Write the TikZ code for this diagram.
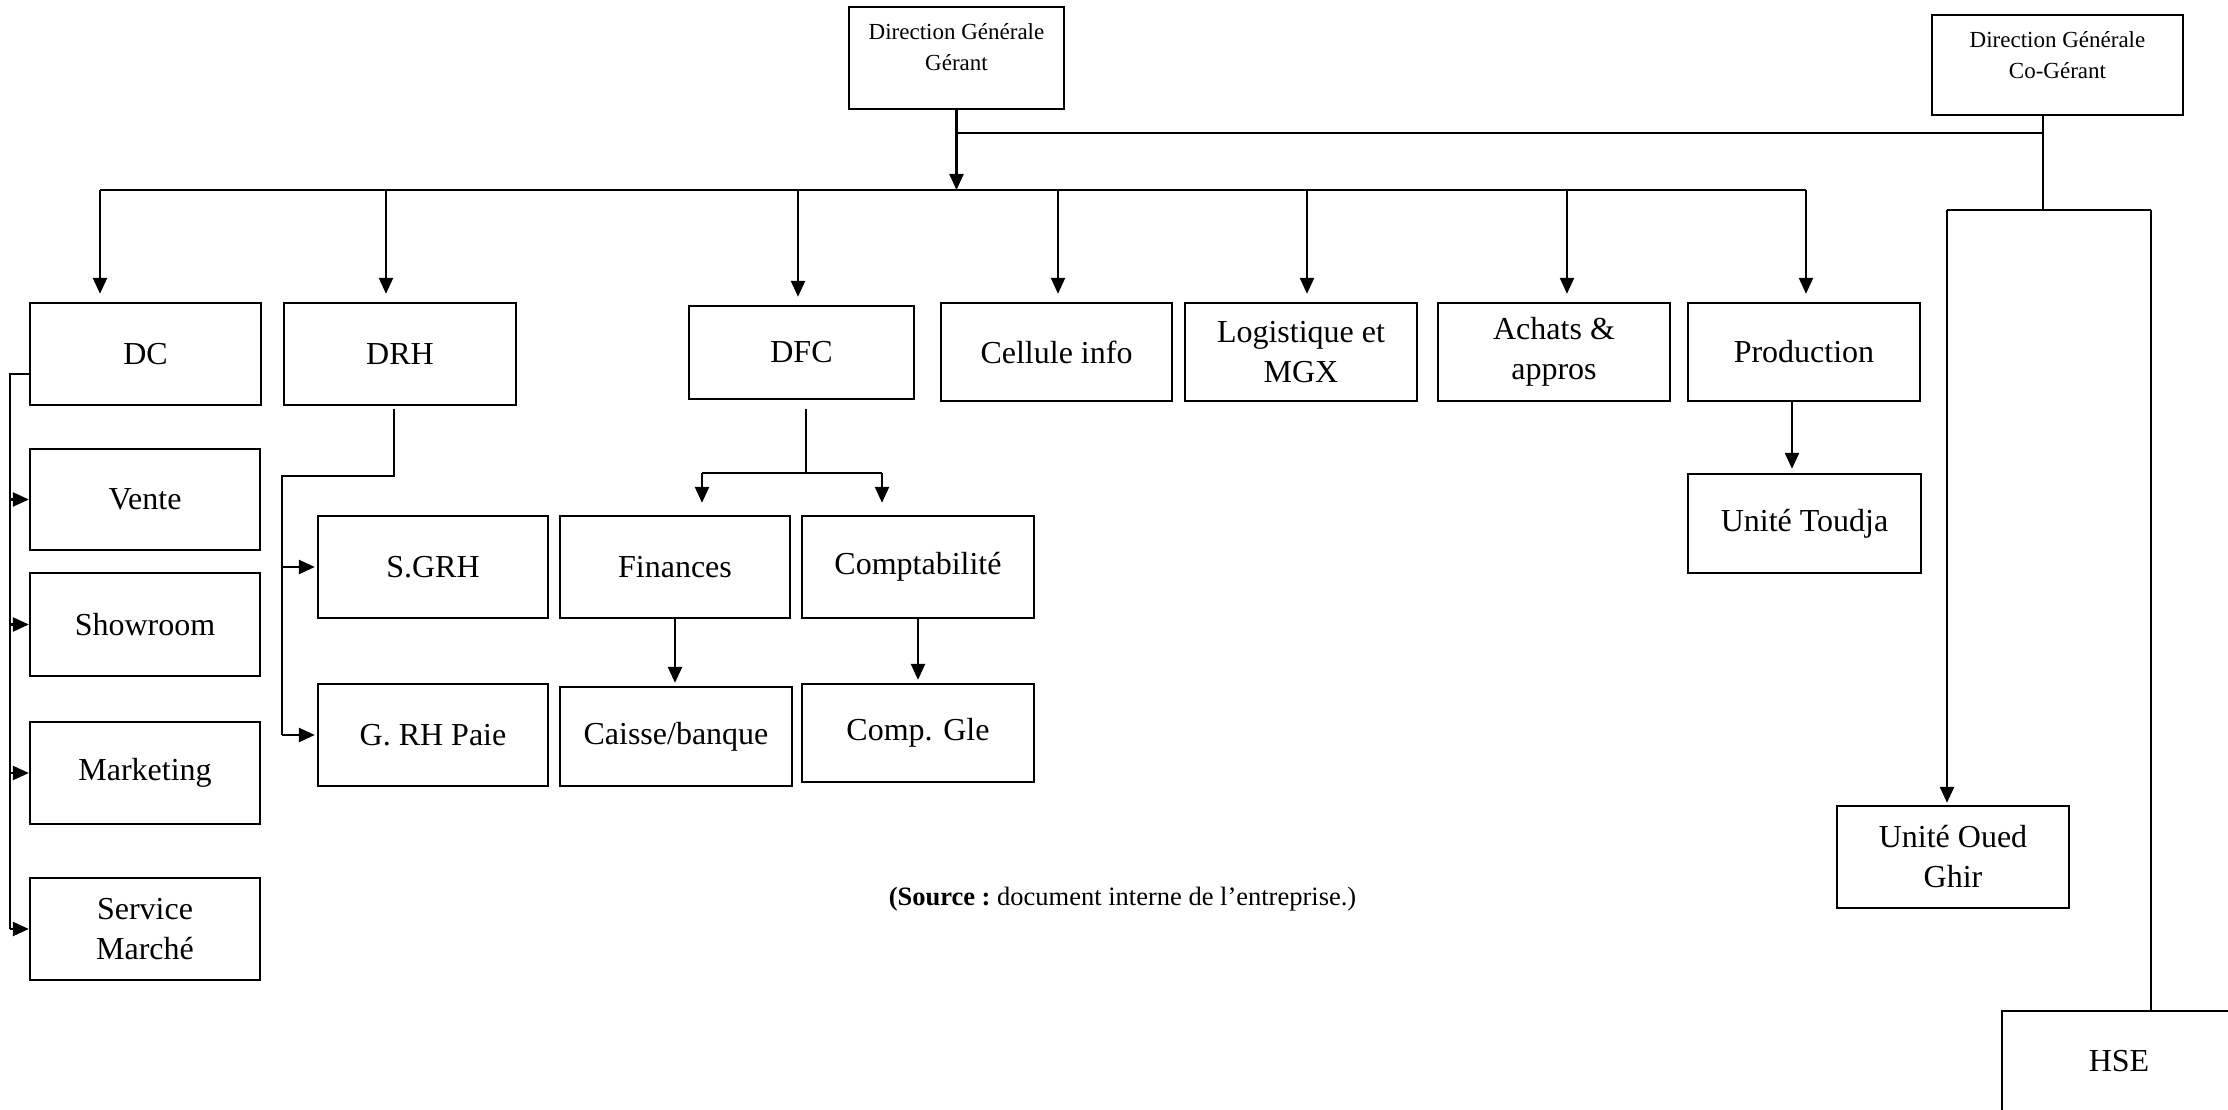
\documentclass[tikz,border=0pt]{standalone}
\usepackage{fontspec}
\setmainfont{Liberation Serif}
\usetikzlibrary{arrows.meta}

\tikzset{
  box/.style={draw, line width=2.3pt, inner sep=0pt, align=center,
              font=\fontsize{32}{40}\selectfont},
  topbox/.style={draw, line width=2.3pt, inner sep=0pt},
  toptext/.style={inner sep=0pt, align=center, anchor=north,
              font=\fontsize{23}{31}\selectfont},
  conn/.style={line width=2.3pt},
  arr/.style={line width=2.3pt, -{Triangle[length=16pt,width=14pt]}},
}

\begin{document}
\begin{tikzpicture}[x=1pt,y=-1pt]
  \useasboundingbox (0,0) rectangle (2228,1110);
  \fill[white] (0,0) rectangle (2228,1110);
  \clip (0,0) rectangle (2228,1110);

  % --- general management ---
  \node[topbox, minimum width=215pt, minimum height=102pt] (ger) at (956.5,58) {};
  \node[toptext] (gert) at ([yshift=-17pt]ger.north) {Direction Générale\\Gérant};
  \node[topbox, minimum width=251pt, minimum height=100pt] (coger) at (2057.5,65) {};
  \node[toptext] (cogert) at ([yshift=-17pt]coger.north) {Direction Générale\\Co-Gérant};

  % --- directions ---
  \node[box, minimum width=231pt, minimum height=102pt] (dc)     at (145.5,354) {DC};
  \node[box, minimum width=232pt, minimum height=102pt] (drh)    at (400,354)   {DRH};
  \node[box, minimum width=225pt, minimum height=93pt]  (dfc)    at (801.5,352.5) {DFC};
  \node[box, minimum width=231pt, minimum height=98pt]  (cell)   at (1056.5,352) {Cellule info};
  \node[box, minimum width=232pt, minimum height=98pt]  (logi)   at (1301,352)  {Logistique et\\MGX};
  \node[box, minimum width=232pt, minimum height=98pt]  (achats) at (1554,352)  {Achats \&\\appros};
  \node[box, minimum width=232pt, minimum height=98pt]  (prod)   at (1804,352)  {Production};

  % --- services ---
  \node[box, minimum width=233pt, minimum height=99pt]  (toudja) at (1804.5,523.5) {Unité Toudja};
  \node[box, minimum width=230pt, minimum height=101pt] (vente)  at (145,499.5) {Vente};
  \node[box, minimum width=230pt, minimum height=103pt] (show)   at (145,624.5) {Showroom};
  \node[box, minimum width=230pt, minimum height=102pt] (mkt)    at (145,773)   {Marketing};
  \node[box, minimum width=230pt, minimum height=102pt] (sm)     at (145,929)   {Service\\Marché};
  \node[box, minimum width=230pt, minimum height=102pt] (sgrh)   at (433,567)   {S.GRH};
  \node[box, minimum width=230pt, minimum height=102pt] (grh)    at (433,735)   {G. RH Paie};
  \node[box, minimum width=230pt, minimum height=102pt] (fin)    at (675,567)   {Finances};
  \node[box, minimum width=232pt, minimum height=102pt] (compta) at (918,567)   {Comptabilité};
  \node[box, minimum width=232pt, minimum height=99pt]  (caisse) at (676,736.5) {Caisse/banque};
  \node[box, minimum width=232pt, minimum height=98pt]  (cgle)   at (918,733)   {Comp. Gle};
  \node[box, minimum width=232pt, minimum height=102pt] (oued)   at (1953,857)  {Unité Oued\\Ghir};
  \node[box, minimum width=234pt, minimum height=101pt] (hse)    at (2119,1061.5) {HSE};

  \node[font=\fontsize{26.5}{32}\selectfont, inner sep=0pt] (src) at (1122.5,899)
    {\textbf{(Source :}\ document interne de l’entreprise.)};

  % --- main distribution bar ---
  \coordinate (barL) at (100,190);
  \coordinate (barR) at (1806,190);
  \draw[conn] (barL) -- (barR);
  \draw[arr] (ger.south) -- (ger.south |- barL);

  % link from the co-manager
  \coordinate (cj) at (2043,133);
  \draw[conn] (ger.south |- cj) -- (cj);
  \draw[conn] (coger.south -| cj) -- (cj) -- (cj |- 0,210);

  % drops to each direction
  \coordinate (a1) at (100,190);
  \coordinate (a2) at (386,190);
  \coordinate (a3) at (798,190);
  \coordinate (a4) at (1058,190);
  \coordinate (a5) at (1307,190);
  \coordinate (a6) at (1567,190);
  \coordinate (a7) at (1806,190);
  \draw[arr, shorten >=8pt] (a1) -- (a1 |- dc.north);
  \draw[arr, shorten >=8pt] (a2) -- (a2 |- drh.north);
  \draw[arr, shorten >=8pt] (a3) -- (a3 |- dfc.north);
  \draw[arr, shorten >=8pt] (a4) -- (a4 |- cell.north);
  \draw[arr, shorten >=8pt] (a5) -- (a5 |- logi.north);
  \draw[arr, shorten >=8pt] (a6) -- (a6 |- achats.north);
  \draw[arr, shorten >=8pt] (a7) -- (a7 |- prod.north);

  % co-manager bracket
  \coordinate (brL) at (1947,210);
  \coordinate (brR) at (2151,210);
  \draw[conn] (brL) -- (brR);
  \draw[arr, shorten >=2pt] (brL) -- (brL |- oued.north);
  \draw[conn] (brR) -- (brR |- hse.north);

  % production unit
  \draw[arr, shorten >=4pt] ([xshift=-12pt]prod.south) -- ([xshift=-12pt]prod.south |- toudja.north);

  % commercial direction
  \coordinate (dcj) at (10,374);
  \draw[conn] (dcj -| dc.west) -- (dcj) -- (dcj |- sm.west);
  \draw[arr] (dcj |- vente.west) -- (vente.west);
  \draw[arr] (dcj |- show.west) -- (show.west);
  \draw[arr] (dcj |- mkt.west) -- (mkt.west);
  \draw[arr] (dcj |- sm.west) -- (sm.west);

  % human resources
  \coordinate (drj) at (282,476);
  \draw[conn, shorten <=3pt] ([xshift=-6pt]drh.south) -- ([xshift=-6pt]drh.south |- drj) -- (drj) -- (drj |- grh.west);
  \draw[arr, shorten >=2pt] (drj |- sgrh.west) -- (sgrh.west);
  \draw[arr, shorten >=2pt] (drj |- grh.west) -- (grh.west);

  % finance and accounting
  \coordinate (dfj) at (806,473);
  \coordinate (dfl) at (702,473);
  \coordinate (dfr) at (882,473);
  \draw[conn, shorten <=9pt] (dfc.south -| dfj) -- (dfj);
  \draw[conn] (dfl) -- (dfr);
  \draw[arr, shorten >=12pt] (dfl) -- (dfl |- fin.north);
  \draw[arr, shorten >=12pt] (dfr) -- (dfr |- compta.north);
  \draw[arr, shorten >=3pt] (fin.south) -- (fin.south |- caisse.north);
  \draw[arr, shorten >=3pt] (compta.south) -- (compta.south |- cgle.north);
\end{tikzpicture}
\end{document}
